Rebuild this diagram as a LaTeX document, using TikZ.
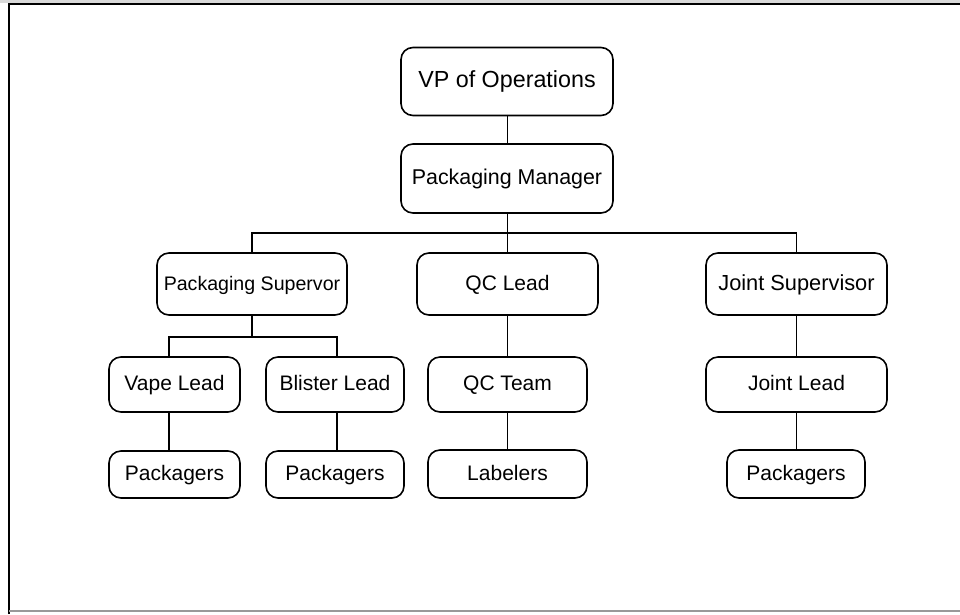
\documentclass[tikz,border=0pt]{standalone}
\usepackage{fontspec}
\setmainfont{Liberation Sans}
\begin{document}
\begin{tikzpicture}[x=1pt,y=-1pt,
  box/.style={draw=black,line width=1.6pt,rounded corners=12pt,fill=white,inner sep=0pt,
    text height=1.2em,text depth=0pt,font=\fontsize{21}{24}\selectfont},
  link/.style={draw=black,line width=1.4pt}]
\useasboundingbox (0,0) rectangle (960,614);
\fill[white] (0,0) rectangle (960,614);
% frame
\fill[black!15] (0,0) rectangle (960,3);
\draw[line width=2pt,black] (9,614) -- (9,4) -- (960,4);
\draw[line width=1.2pt,black!40] (9,611) -- (960,611);
% nodes
\node[box,minimum width=212pt,minimum height=68pt,font=\fontsize{23.3}{26}\selectfont] (vp) at (507,81.5) {VP of Operations};
\node[box,minimum width=212pt,minimum height=69pt,font=\fontsize{21.4}{24}\selectfont] (pm) at (507,178.5) {Packaging Manager};
\node[box,minimum width=190pt,minimum height=62pt,font=\fontsize{19.6}{22}\selectfont] (ps) at (252,284) {Packaging Supervor};
\node[box,minimum width=181pt,minimum height=62pt] (qcl) at (507.5,284) {QC Lead};
\node[box,minimum width=181pt,minimum height=62pt,font=\fontsize{21.8}{24}\selectfont] (js) at (796.5,284) {Joint Supervisor};
\node[box,minimum width=131pt,minimum height=55pt] (vl) at (174.5,384.5) {Vape Lead};
\node[box,minimum width=138pt,minimum height=55pt] (bl) at (335,384.5) {Blister Lead};
\node[box,minimum width=131pt,minimum height=47pt] (p1) at (174.5,474.5) {Packagers};
\node[box,minimum width=138pt,minimum height=47pt] (p2) at (335,474.5) {Packagers};
\node[box,minimum width=159pt,minimum height=55pt] (qct) at (507.5,384.5) {QC Team};
\node[box,minimum width=159pt,minimum height=48pt] (lab) at (507.5,474) {Labelers};
\node[box,minimum width=181pt,minimum height=55pt] (jl) at (796.5,384.5) {Joint Lead};
\node[box,minimum width=138pt,minimum height=48pt] (p3) at (796,474) {Packagers};
% bus coordinates
\coordinate (bus) at (0,233);
\coordinate (sbus) at (0,337);
\coordinate (vx) at (169,0);
\coordinate (bx) at (337,0);
% connectors
\draw[link] (vp.south -| qcl) -- (pm.north -| qcl);
\draw[link] (pm.south -| qcl) -- (qcl.north);
\draw[link] (ps.north) -- (ps.north |- bus) -- (js.north |- bus) -- (js.north);
\draw[link] (ps.south) -- (ps.south |- sbus);
\draw[link] (vx |- vl.north) -- (vx |- sbus) -- (bx |- sbus) -- (bx |- bl.north);
\draw[link] (vx |- vl.south) -- (vx |- p1.north);
\draw[link] (bx |- bl.south) -- (bx |- p2.north);
\draw[link] (qcl.south) -- (qct.north);
\draw[link] (qct.south) -- (lab.north);
\draw[link] (js.south) -- (jl.north);
\draw[link] (jl.south) -- (jl.south |- p3.north);
\end{tikzpicture}
\end{document}
